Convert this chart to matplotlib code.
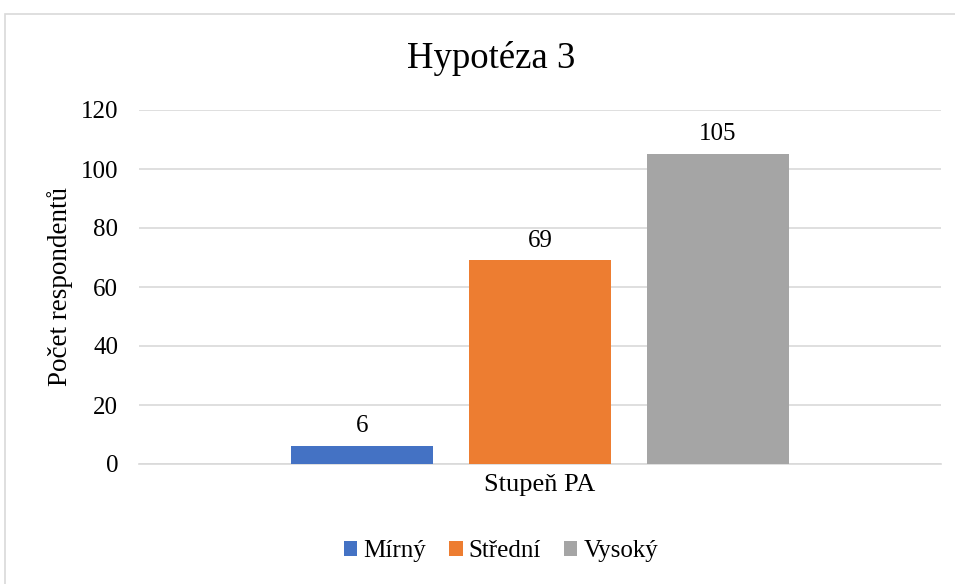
import numpy as np
import matplotlib.pyplot as plt
from matplotlib.patches import Rectangle

# Data
category = "Stupeň PA"
series = ["Mírný", "Střední", "Vysoký"]
counts = [6, 69, 105]
colors = ["#4472C4", "#ED7D31", "#A5A5A5"]
yticks = [0, 20, 40, 60, 80, 100, 120]

plt.rcParams["font.family"] = ["Liberation Serif", "DejaVu Serif"]

W, H = 955, 584
fig = plt.figure(figsize=(W / 100, H / 100), dpi=100)

# chart frame
fig.patches.append(Rectangle((5 / W, -0.1), 1.2, 1 - 14 / H + 0.1, transform=fig.transFigure,
                             fill=False, edgecolor="#d9d9d9", linewidth=1.2))

ax = fig.add_axes([139 / W, 1 - 464 / H, (941 - 139) / W, (464 - 110) / H])

width = 0.176
step = 0.222
offsets = (np.arange(len(series)) - 1) * step
for off, val, col, name in zip(offsets, counts, colors, series):
    ax.bar(off, val, width=width, color=col, label=name, zorder=3)
    ax.text(off, val + 3.0, str(val), ha="center", va="bottom", fontsize=18)

ax.set_xlim(-0.5, 0.5)
ax.set_ylim(0, 120)
ax.set_yticks(yticks)
ax.set_xticks([0])
ax.set_xticklabels([category])
ax.tick_params(axis="y", length=0, labelsize=18, pad=15)
ax.tick_params(axis="x", length=0, labelsize=19, pad=7)
ax.grid(axis="y", color="#d9d9d9", linewidth=1.2, zorder=0)
for s in ["top", "right", "left"]:
    ax.spines[s].set_visible(False)
ax.spines["bottom"].set_color("#d9d9d9")
ax.spines["bottom"].set_linewidth(1.2)

ax.set_ylabel("Počet respondentů", fontsize=19.5)
ax.yaxis.set_label_coords((73 - 139) / 802, 0.5)

fig.text(491 / W, 1 - 59 / H, "Hypotéza 3", ha="center", va="center", fontsize=26.5)

fig.legend(loc="center", bbox_to_anchor=(501 / W, 1 - 551 / H), ncol=3, frameon=False,
           fontsize=18, handlelength=0.55, handleheight=0.55, handletextpad=0.25, columnspacing=0.9)

fig.savefig("out.png", dpi=100)
